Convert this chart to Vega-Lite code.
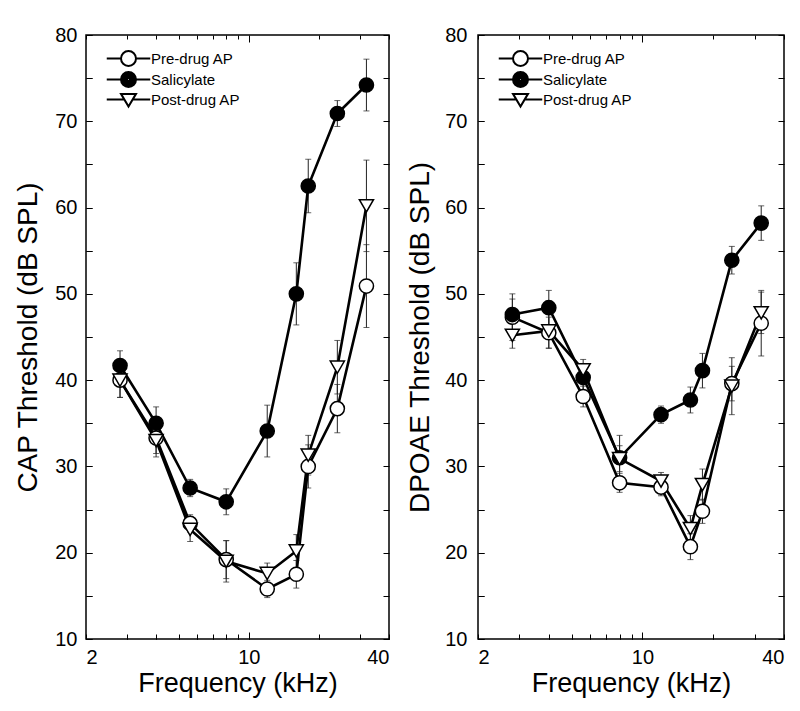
{
  "$schema": "https://vega.github.io/schema/vega-lite/v6.json",
  "padding": {"left": 14, "top": 24, "right": 5, "bottom": 5},
  "spacing": 15,
  "datasets": {
    "cap": [
      {"series": "Pre-drug AP", "freq": 2.8, "thr": 40.0, "err": 2.0},
      {"series": "Pre-drug AP", "freq": 4, "thr": 33.3, "err": 1.8},
      {"series": "Pre-drug AP", "freq": 5.6, "thr": 23.4, "err": 1.0},
      {"series": "Pre-drug AP", "freq": 8, "thr": 19.2, "err": 2.2},
      {"series": "Pre-drug AP", "freq": 12, "thr": 15.8, "err": 1.0},
      {"series": "Pre-drug AP", "freq": 16, "thr": 17.5, "err": 1.6},
      {"series": "Pre-drug AP", "freq": 18, "thr": 30.0, "err": 2.5},
      {"series": "Pre-drug AP", "freq": 24, "thr": 36.7, "err": 2.8},
      {"series": "Pre-drug AP", "freq": 32, "thr": 50.9, "err": 4.8},
      {"series": "Salicylate", "freq": 2.8, "thr": 41.7, "err": 1.7},
      {"series": "Salicylate", "freq": 4, "thr": 35.0, "err": 1.9},
      {"series": "Salicylate", "freq": 5.6, "thr": 27.5, "err": 1.0},
      {"series": "Salicylate", "freq": 8, "thr": 25.9, "err": 1.5},
      {"series": "Salicylate", "freq": 12, "thr": 34.1, "err": 3.0},
      {"series": "Salicylate", "freq": 16, "thr": 50.0, "err": 3.6},
      {"series": "Salicylate", "freq": 18, "thr": 62.5, "err": 3.1},
      {"series": "Salicylate", "freq": 24, "thr": 70.9, "err": 1.5},
      {"series": "Salicylate", "freq": 32, "thr": 74.2, "err": 3.0},
      {"series": "Post-drug AP", "freq": 2.8, "thr": 40.0, "err": 2.0},
      {"series": "Post-drug AP", "freq": 4, "thr": 33.0, "err": 1.9},
      {"series": "Post-drug AP", "freq": 5.6, "thr": 22.7, "err": 1.4},
      {"series": "Post-drug AP", "freq": 8, "thr": 19.0, "err": 2.4},
      {"series": "Post-drug AP", "freq": 12, "thr": 17.6, "err": 1.2},
      {"series": "Post-drug AP", "freq": 16, "thr": 20.2, "err": 1.9},
      {"series": "Post-drug AP", "freq": 18, "thr": 31.3, "err": 2.3},
      {"series": "Post-drug AP", "freq": 24, "thr": 41.5, "err": 3.1},
      {"series": "Post-drug AP", "freq": 32, "thr": 60.2, "err": 5.3}
    ],
    "dp": [
      {"series": "Pre-drug AP", "freq": 2.8, "thr": 47.3, "err": 2.7},
      {"series": "Pre-drug AP", "freq": 4, "thr": 45.5, "err": 1.8},
      {"series": "Pre-drug AP", "freq": 5.6, "thr": 38.1, "err": 1.2},
      {"series": "Pre-drug AP", "freq": 8, "thr": 28.1, "err": 1.1},
      {"series": "Pre-drug AP", "freq": 12, "thr": 27.6, "err": 1.0},
      {"series": "Pre-drug AP", "freq": 16, "thr": 20.7, "err": 1.5},
      {"series": "Pre-drug AP", "freq": 18, "thr": 24.8, "err": 1.4},
      {"series": "Pre-drug AP", "freq": 24, "thr": 39.6, "err": 2.0},
      {"series": "Pre-drug AP", "freq": 32, "thr": 46.6, "err": 3.8},
      {"series": "Salicylate", "freq": 2.8, "thr": 47.6, "err": 1.8},
      {"series": "Salicylate", "freq": 4, "thr": 48.4, "err": 2.0},
      {"series": "Salicylate", "freq": 5.6, "thr": 40.3, "err": 1.5},
      {"series": "Salicylate", "freq": 8, "thr": 31.0, "err": 2.6},
      {"series": "Salicylate", "freq": 12, "thr": 36.0, "err": 1.0},
      {"series": "Salicylate", "freq": 16, "thr": 37.7, "err": 1.5},
      {"series": "Salicylate", "freq": 18, "thr": 41.1, "err": 2.0},
      {"series": "Salicylate", "freq": 24, "thr": 53.9, "err": 1.6},
      {"series": "Salicylate", "freq": 32, "thr": 58.2, "err": 2.0},
      {"series": "Post-drug AP", "freq": 2.8, "thr": 45.2, "err": 1.5},
      {"series": "Post-drug AP", "freq": 4, "thr": 45.7, "err": 2.0},
      {"series": "Post-drug AP", "freq": 5.6, "thr": 41.2, "err": 1.2},
      {"series": "Post-drug AP", "freq": 8, "thr": 30.9, "err": 1.5},
      {"series": "Post-drug AP", "freq": 12, "thr": 28.3, "err": 1.0},
      {"series": "Post-drug AP", "freq": 16, "thr": 22.8, "err": 1.5},
      {"series": "Post-drug AP", "freq": 18, "thr": 27.9, "err": 1.8},
      {"series": "Post-drug AP", "freq": 24, "thr": 39.3, "err": 3.3},
      {"series": "Post-drug AP", "freq": 32, "thr": 47.8, "err": 2.4}
    ]
  },
  "hconcat": [
    {
      "width": 303,
      "height": 604,
      "data": {"name": "cap"},
      "layer": [
        {
          "mark": {"type": "errorbar", "ticks": {"size": 6}, "thickness": 1, "color": "#222222"},
          "encoding": {
            "x": {"field": "freq", "type": "quantitative", "scale": {"type": "log", "domain": [2, 40], "nice": false},
              "axis": {"orient": "bottom", "values": [2, 3, 4, 5, 6, 7, 8, 9, 10, 20, 30, 40], "format": "d", "labelExpr": "datum.value == 2 || datum.value == 10 || datum.value == 40 ? datum.label : ''", "ticks": true, "tickSize": -5, "tickColor": "black", "tickWidth": 1, "domain": false, "grid": true, "gridColor": "black", "gridOpacity": 1, "gridWidth": 1, "gridDash": {"condition": {"test": "datum.value == 10", "value": [7, 590, 7, 2000]}, "value": [4, 596, 4, 2000]}, "labelFlush": true, "labelFontSize": 20, "labelPadding": 13, "title": "Frequency (kHz)", "titleFontSize": 27, "titleFontWeight": "normal", "titlePadding": 3}},
            "y": {"field": "thr", "type": "quantitative", "scale": {"domain": [10, 80]},
              "axis": {"orient": "left", "values": [10, 15, 20, 25, 30, 35, 40, 45, 50, 55, 60, 65, 70, 75, 80], "labelExpr": "datum.value % 10 == 0 ? datum.label : ''", "ticks": true, "tickSize": -6, "tickColor": "black", "tickWidth": 1, "domain": false, "grid": true, "gridColor": "black", "gridOpacity": 1, "gridWidth": 1, "gridDash": [6, 291, 6, 2000], "labelFontSize": 20, "labelPadding": 15, "title": "CAP Threshold (dB SPL)", "titleFontSize": 28, "titleFontWeight": "normal", "titlePadding": 12}},
            "yError": {"field": "err"},
            "detail": {"field": "series"}
          }
        },
        {
          "mark": {"type": "line", "color": "black", "strokeWidth": 2.6},
          "encoding": {
            "x": {"field": "freq", "type": "quantitative"},
            "y": {"field": "thr", "type": "quantitative"},
            "detail": {"field": "series"}
          }
        },
        {
          "transform": [{"filter": "datum.series == 'Pre-drug AP'"}],
          "mark": {"type": "point", "shape": "circle", "size": 200, "fill": "white", "stroke": "black", "strokeWidth": 1.5, "opacity": 1},
          "encoding": {"x": {"field": "freq", "type": "quantitative"}, "y": {"field": "thr", "type": "quantitative"}}
        },
        {
          "transform": [{"filter": "datum.series == 'Salicylate'"}],
          "mark": {"type": "point", "shape": "circle", "size": 200, "fill": "black", "stroke": "black", "strokeWidth": 1.5, "opacity": 1},
          "encoding": {"x": {"field": "freq", "type": "quantitative"}, "y": {"field": "thr", "type": "quantitative"}}
        },
        {
          "transform": [{"filter": "datum.series == 'Post-drug AP'"}],
          "mark": {"type": "point", "shape": "triangle-down", "size": 200, "fill": "white", "stroke": "black", "strokeWidth": 1.5, "opacity": 1},
          "encoding": {"x": {"field": "freq", "type": "quantitative"}, "y": {"field": "thr", "type": "quantitative"}}
        },
        {
          "transform": [{"filter": "false"}],
          "mark": {"type": "point", "filled": false, "color": "black", "strokeWidth": 2},
          "encoding": {
            "shape": {"field": "series", "type": "nominal", "scale": {"domain": ["Pre-drug AP", "Salicylate", "Post-drug AP"], "range": ["M-1,0A1,1,0,1,1,1,0A1,1,0,1,1,-1,0Z M-2.9,0L-1,0 M1,0L2.9,0", "M-1,0A1,1,0,1,1,1,0A1,1,0,1,1,-1,0Z M-0.8,0A0.8,0.8,0,1,1,0.8,0A0.8,0.8,0,1,1,-0.8,0Z M-0.6,0A0.6,0.6,0,1,1,0.6,0A0.6,0.6,0,1,1,-0.6,0Z M-0.4,0A0.4,0.4,0,1,1,0.4,0A0.4,0.4,0,1,1,-0.4,0Z M-0.2,0A0.2,0.2,0,1,1,0.2,0A0.2,0.2,0,1,1,-0.2,0Z M-2.9,0L-1,0 M1,0L2.9,0", "M-1,-0.75L1,-0.75L0,0.95Z M-2.9,0L-0.56,0 M0.56,0L2.9,0"]},
              "legend": {"orient": "none", "legendX": 34, "legendY": 15, "title": null, "labelFontSize": 15, "symbolSize": 225, "symbolStrokeWidth": 2, "symbolStrokeColor": "black", "symbolOpacity": 1, "labelOffset": 14, "rowPadding": -2, "padding": 0}}
          }
        }
      ]
    },
    {
      "width": 306,
      "height": 604,
      "data": {"name": "dp"},
      "layer": [
        {
          "mark": {"type": "errorbar", "ticks": {"size": 6}, "thickness": 1, "color": "#222222"},
          "encoding": {
            "x": {"field": "freq", "type": "quantitative", "scale": {"type": "log", "domain": [2, 40], "nice": false},
              "axis": {"orient": "bottom", "values": [2, 3, 4, 5, 6, 7, 8, 9, 10, 20, 30, 40], "format": "d", "labelExpr": "datum.value == 2 || datum.value == 10 || datum.value == 40 ? datum.label : ''", "ticks": true, "tickSize": -5, "tickColor": "black", "tickWidth": 1, "domain": false, "grid": true, "gridColor": "black", "gridOpacity": 1, "gridWidth": 1, "gridDash": {"condition": {"test": "datum.value == 10", "value": [7, 590, 7, 2000]}, "value": [4, 596, 4, 2000]}, "labelFlush": true, "labelFontSize": 20, "labelPadding": 13, "title": "Frequency (kHz)", "titleFontSize": 27, "titleFontWeight": "normal", "titlePadding": 3}},
            "y": {"field": "thr", "type": "quantitative", "scale": {"domain": [10, 80]},
              "axis": {"orient": "left", "values": [10, 15, 20, 25, 30, 35, 40, 45, 50, 55, 60, 65, 70, 75, 80], "labelExpr": "datum.value % 10 == 0 ? datum.label : ''", "ticks": true, "tickSize": -6, "tickColor": "black", "tickWidth": 1, "domain": false, "grid": true, "gridColor": "black", "gridOpacity": 1, "gridWidth": 1, "gridDash": [6, 294, 6, 2000], "labelFontSize": 20, "labelPadding": 17, "title": "DPOAE Threshold (dB SPL)", "titleFontSize": 28, "titleFontWeight": "normal", "titlePadding": 10}},
            "yError": {"field": "err"},
            "detail": {"field": "series"}
          }
        },
        {
          "mark": {"type": "line", "color": "black", "strokeWidth": 2.6},
          "encoding": {
            "x": {"field": "freq", "type": "quantitative"},
            "y": {"field": "thr", "type": "quantitative"},
            "detail": {"field": "series"}
          }
        },
        {
          "transform": [{"filter": "datum.series == 'Pre-drug AP'"}],
          "mark": {"type": "point", "shape": "circle", "size": 200, "fill": "white", "stroke": "black", "strokeWidth": 1.5, "opacity": 1},
          "encoding": {"x": {"field": "freq", "type": "quantitative"}, "y": {"field": "thr", "type": "quantitative"}}
        },
        {
          "transform": [{"filter": "datum.series == 'Salicylate'"}],
          "mark": {"type": "point", "shape": "circle", "size": 200, "fill": "black", "stroke": "black", "strokeWidth": 1.5, "opacity": 1},
          "encoding": {"x": {"field": "freq", "type": "quantitative"}, "y": {"field": "thr", "type": "quantitative"}}
        },
        {
          "transform": [{"filter": "datum.series == 'Post-drug AP'"}],
          "mark": {"type": "point", "shape": "triangle-down", "size": 200, "fill": "white", "stroke": "black", "strokeWidth": 1.5, "opacity": 1},
          "encoding": {"x": {"field": "freq", "type": "quantitative"}, "y": {"field": "thr", "type": "quantitative"}}
        },
        {
          "transform": [{"filter": "false"}],
          "mark": {"type": "point", "filled": false, "color": "black", "strokeWidth": 2},
          "encoding": {
            "shape": {"field": "series", "type": "nominal", "scale": {"domain": ["Pre-drug AP", "Salicylate", "Post-drug AP"], "range": ["M-1,0A1,1,0,1,1,1,0A1,1,0,1,1,-1,0Z M-2.9,0L-1,0 M1,0L2.9,0", "M-1,0A1,1,0,1,1,1,0A1,1,0,1,1,-1,0Z M-0.8,0A0.8,0.8,0,1,1,0.8,0A0.8,0.8,0,1,1,-0.8,0Z M-0.6,0A0.6,0.6,0,1,1,0.6,0A0.6,0.6,0,1,1,-0.6,0Z M-0.4,0A0.4,0.4,0,1,1,0.4,0A0.4,0.4,0,1,1,-0.4,0Z M-0.2,0A0.2,0.2,0,1,1,0.2,0A0.2,0.2,0,1,1,-0.2,0Z M-2.9,0L-1,0 M1,0L2.9,0", "M-1,-0.75L1,-0.75L0,0.95Z M-2.9,0L-0.56,0 M0.56,0L2.9,0"]},
              "legend": {"orient": "none", "legendX": 34, "legendY": 15, "title": null, "labelFontSize": 15, "symbolSize": 225, "symbolStrokeWidth": 2, "symbolStrokeColor": "black", "symbolOpacity": 1, "labelOffset": 14, "rowPadding": -2, "padding": 0}}
          }
        }
      ]
    }
  ],
  "resolve": {"scale": {"shape": "independent"}, "legend": {"shape": "independent"}},
  "config": {
    "font": "Liberation Sans",
    "view": {"stroke": "black", "strokeWidth": 1.5},
    "axis": {"labelColor": "black", "titleColor": "black", "labelFont": "Liberation Sans", "titleFont": "Liberation Sans"},
    "legend": {"labelColor": "black", "labelFont": "Liberation Sans"}
  }
}
